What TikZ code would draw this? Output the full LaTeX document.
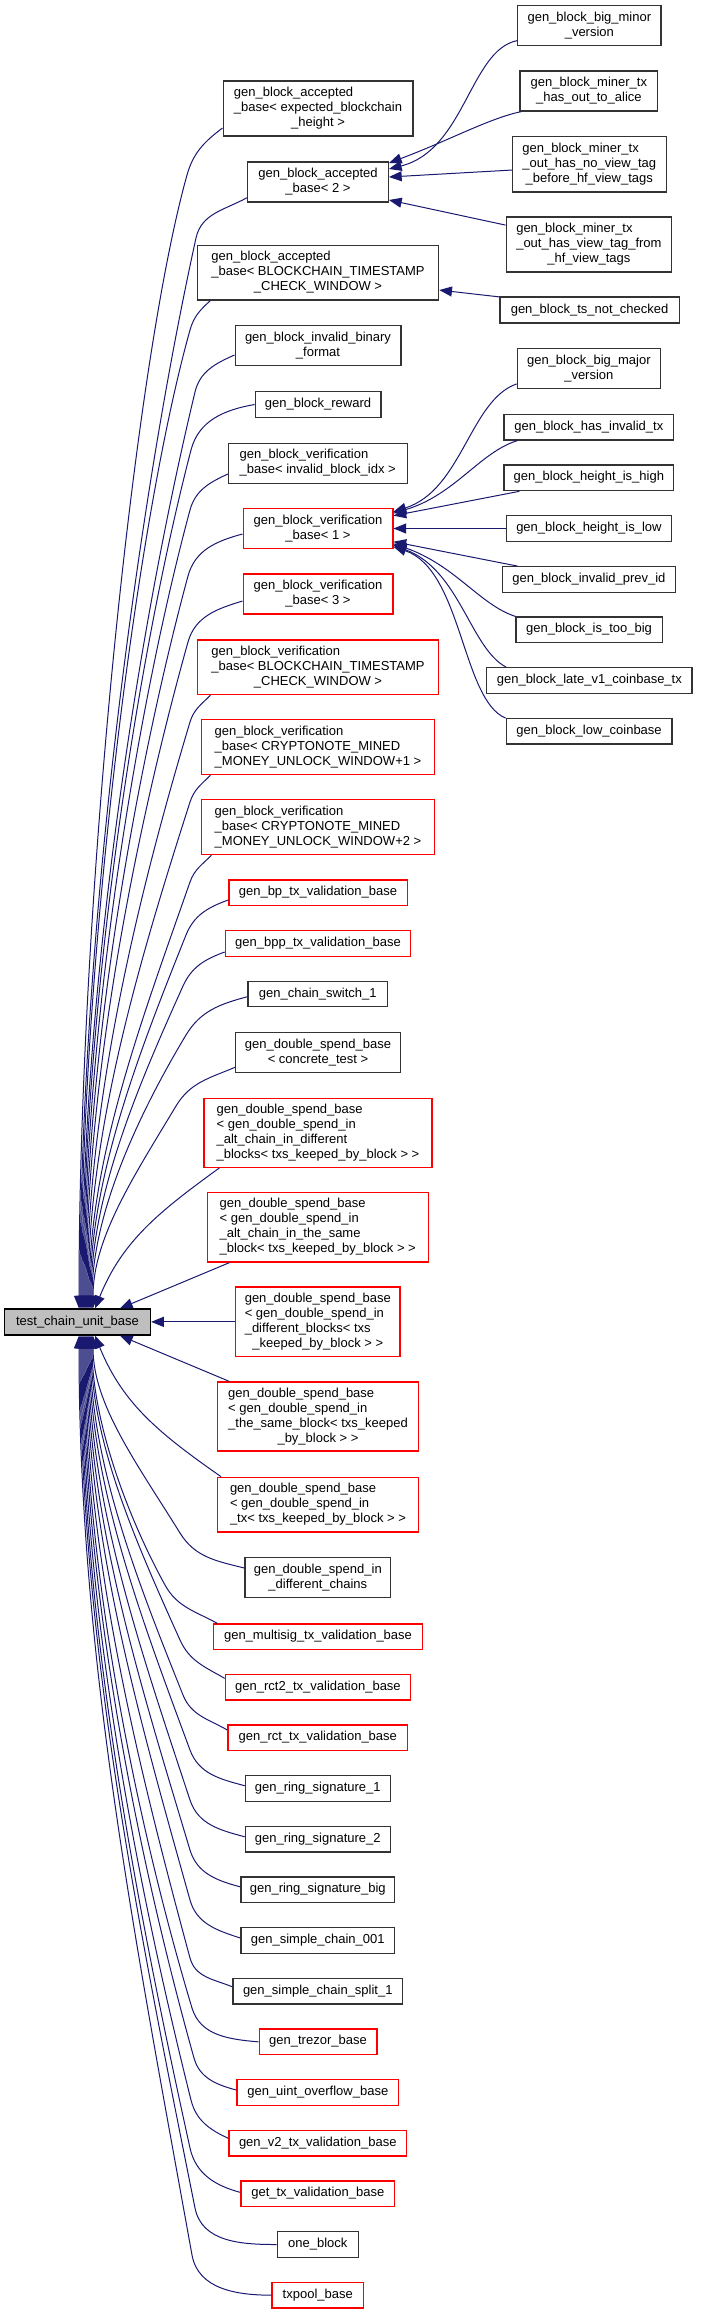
\documentclass[tikz,border=0pt]{standalone}
\usepackage{fontspec}
\setmainfont{Liberation Sans}
\usetikzlibrary{arrows.meta,calc}
\definecolor{edgeblue}{HTML}{191970}
\definecolor{basegray}{HTML}{BFBFBF}
\definecolor{boxred}{HTML}{FF0000}
\newcommand{\dxfont}{\fontsize{9.75}{11.25}\selectfont}
\newcommand{\dxl}[1]{\begin{tabular}{@{}l@{}}#1\end{tabular}}
\newcommand{\dxc}[1]{\multicolumn{1}{@{}c@{}}{#1}}
% node: name, x1, y1, x2, y2 (px, y downwards), text, style
\newcommand{\dxnode}[7]{\node[#7, minimum width={(#4-#2)*0.75pt}, minimum height={(#5-#3)*0.75pt}] (#1) at ({(#2+#4)/2},{-(#3+#5)/2}) {\dxl{#6}};}
% upper edge: start, out angle, Bx, By, Ex, slope
\newcommand{\upedge}[6]{%
  \pgfmathsetmacro{\dxin}{90-atan(#6)}%
  \pgfmathsetmacro{\dxt}{min(0.5*(#3-#5)/#6, 0.6*(1309-#4))}%
  \pgfmathsetmacro{\dxcax}{#3-#6*\dxt}%
  \pgfmathsetmacro{\dxcay}{#4+\dxt}%
  \pgfmathsetmacro{\dxcby}{1309-0.35*(1309-#4)}%
  \draw[inh] (#1) to[out=#2,in=\dxin] (#3,-#4) .. controls (\dxcax,-\dxcay) and (#5,-\dxcby) .. ($(base.north)+({#5-77.5},0)$);%
}
% lower edge: start, out angle, Bx, By, Ex, slope
\newcommand{\lowedge}[6]{%
  \pgfmathsetmacro{\dxin}{atan(#6)-90}%
  \pgfmathsetmacro{\dxt}{min(0.5*(#3-#5)/#6, 0.6*(#4-1335))}%
  \pgfmathsetmacro{\dxcax}{#3-#6*\dxt}%
  \pgfmathsetmacro{\dxcay}{#4-\dxt}%
  \pgfmathsetmacro{\dxcby}{1335+0.35*(#4-1335)}%
  \draw[inh] (#1) to[out=#2,in=\dxin] (#3,-#4) .. controls (\dxcax,-\dxcay) and (#5,-\dxcby) .. ($(base.south)+({#5-77.5},0)$);%
}
\begin{document}
\begin{tikzpicture}[x=0.75pt,y=0.75pt,
  cls/.style={draw=black!80, line width=0.9pt, fill=white, inner sep=0pt, font=\dxfont, text=black},
  clsr/.style={cls, draw=boxred},
  clsb/.style={cls, draw=black, fill=basegray},
  inh/.style={draw=edgeblue, line width=0.75pt, -{Triangle[length=9.5pt,width=7.5pt]}}]
\useasboundingbox (0,0) rectangle (701,-2314);

% right column, top
\dxnode{bmin}{517.8}{5.7}{660.9}{45.7}{gen\_block\_big\_minor\\\dxc{\_version}}{cls}
\dxnode{alice}{520}{71}{657.8}{111}{gen\_block\_miner\_tx\\\dxc{\_has\_out\_to\_alice}}{cls}
\dxnode{nvt}{512.4}{136.7}{666.2}{192}{gen\_block\_miner\_tx\\\_out\_has\_no\_view\_tag\\\dxc{\_before\_hf\_view\_tags}}{cls}
\dxnode{vtf}{506.2}{217}{671.6}{272}{gen\_block\_miner\_tx\\\_out\_has\_view\_tag\_from\\\dxc{\_hf\_view\_tags}}{cls}
\dxnode{tsnc}{500}{297}{679.1}{323}{gen\_block\_ts\_not\_checked}{cls}
% right column, middle
\dxnode{bmaj}{517.3}{348.7}{660.4}{388.7}{gen\_block\_big\_major\\\dxc{\_version}}{cls}
\dxnode{hit}{504}{414.7}{673.8}{440}{gen\_block\_has\_invalid\_tx}{cls}
\dxnode{hih}{504}{465}{673.8}{490.7}{gen\_block\_height\_is\_high}{cls}
\dxnode{hil}{506.2}{515.7}{671.6}{541.3}{gen\_block\_height\_is\_low}{cls}
\dxnode{ipi}{502.2}{566.7}{675.6}{592.3}{gen\_block\_invalid\_prev\_id}{cls}
\dxnode{itb}{516}{617}{662.2}{642.7}{gen\_block\_is\_too\_big}{cls}
\dxnode{lv1}{486.7}{667.7}{692}{693.3}{gen\_block\_late\_v1\_coinbase\_tx}{cls}
\dxnode{lcb}{506.2}{718.7}{672}{744}{gen\_block\_low\_coinbase}{cls}

% middle column
\dxnode{abe}{223.1}{81}{412.9}{136}{gen\_block\_accepted\\\_base< expected\_blockchain\\\dxc{\_height >}}{cls}
\dxnode{ab2}{247.6}{162}{388.4}{202}{gen\_block\_accepted\\\dxc{\_base< 2 >}}{cls}
\dxnode{abw}{197.3}{245.3}{438.7}{300}{gen\_block\_accepted\\\_base< BLOCKCHAIN\_TIMESTAMP\\\dxc{\_CHECK\_WINDOW >}}{cls}
\dxnode{ibf}{235.1}{325.7}{400.9}{365.7}{gen\_block\_invalid\_binary\\\dxc{\_format}}{cls}
\dxnode{rew}{255.1}{391.7}{380.9}{417.3}{gen\_block\_reward}{cls}
\dxnode{vbi}{228.4}{443.3}{407.1}{483.3}{gen\_block\_verification\\\dxc{\_base< invalid\_block\_idx >}}{cls}
\dxnode{vb1}{243.1}{508.7}{392.9}{548.7}{gen\_block\_verification\\\dxc{\_base< 1 >}}{clsr}
\dxnode{vb3}{243.1}{574}{392.9}{614}{gen\_block\_verification\\\dxc{\_base< 3 >}}{clsr}
\dxnode{vbw}{197.3}{640}{438.7}{694.7}{gen\_block\_verification\\\_base< BLOCKCHAIN\_TIMESTAMP\\\dxc{\_CHECK\_WINDOW >}}{clsr}
\dxnode{vm1}{201.3}{719.7}{434.7}{774.7}{gen\_block\_verification\\\_base< CRYPTONOTE\_MINED\\\dxc{\_MONEY\_UNLOCK\_WINDOW+1 >}}{clsr}
\dxnode{vm2}{201.3}{799.7}{434.7}{854.7}{gen\_block\_verification\\\_base< CRYPTONOTE\_MINED\\\dxc{\_MONEY\_UNLOCK\_WINDOW+2 >}}{clsr}
\dxnode{bp}{228.9}{880}{407.1}{905.3}{gen\_bp\_tx\_validation\_base}{clsr}
\dxnode{bpp}{225.3}{930.7}{410.7}{956.3}{gen\_bpp\_tx\_validation\_base}{clsr}
\dxnode{cs1}{248}{981.3}{387.6}{1006.7}{gen\_chain\_switch\_1}{cls}
\dxnode{dsc}{235.6}{1032.7}{400.4}{1072.7}{gen\_double\_spend\_base\\\dxc{< concrete\_test >}}{cls}
\dxnode{ds1}{204}{1098.3}{432}{1167.3}{gen\_double\_spend\_base\\< gen\_double\_spend\_in\\\_alt\_chain\_in\_different\\\dxc{\_blocks< txs\_keeped\_by\_block > >}}{clsr}
\dxnode{ds2}{207.1}{1192.7}{428.4}{1262}{gen\_double\_spend\_base\\< gen\_double\_spend\_in\\\_alt\_chain\_in\_the\_same\\\dxc{\_block< txs\_keeped\_by\_block > >}}{clsr}
\dxnode{ds3}{235.6}{1287}{400}{1356.7}{gen\_double\_spend\_base\\< gen\_double\_spend\_in\\\_different\_blocks< txs\\\dxc{\_keeped\_by\_block > >}}{clsr}
\dxnode{ds4}{217.3}{1382}{418.7}{1451}{gen\_double\_spend\_base\\< gen\_double\_spend\_in\\\_the\_same\_block< txs\_keeped\\\dxc{\_by\_block > >}}{clsr}
\dxnode{ds5}{217.3}{1477.3}{418.7}{1532}{gen\_double\_spend\_base\\< gen\_double\_spend\_in\\\dxc{\_tx< txs\_keeped\_by\_block > >}}{clsr}
\dxnode{dsd}{244.9}{1557.7}{390.7}{1597.7}{gen\_double\_spend\_in\\\dxc{\_different\_chains}}{cls}
\dxnode{msig}{213.3}{1624}{422.7}{1649.3}{gen\_multisig\_tx\_validation\_base}{clsr}
\dxnode{rct2}{225.3}{1674.7}{410.7}{1700}{gen\_rct2\_tx\_validation\_base}{clsr}
\dxnode{rct}{228}{1725}{407.6}{1750.7}{gen\_rct\_tx\_validation\_base}{clsr}
\dxnode{rs1}{245.3}{1775.7}{390.2}{1801.3}{gen\_ring\_signature\_1}{cls}
\dxnode{rs2}{245.3}{1826.7}{390.2}{1852}{gen\_ring\_signature\_2}{cls}
\dxnode{rsb}{240.9}{1877}{394.7}{1902.7}{gen\_ring\_signature\_big}{cls}
\dxnode{sc1}{240.9}{1927.7}{394.7}{1953.3}{gen\_simple\_chain\_001}{cls}
\dxnode{scs}{232.9}{1978.7}{402.7}{2004}{gen\_simple\_chain\_split\_1}{cls}
\dxnode{trz}{259.1}{2029}{376.9}{2054.7}{gen\_trezor\_base}{clsr}
\dxnode{uio}{236.9}{2079.7}{398.7}{2105.3}{gen\_uint\_overflow\_base}{clsr}
\dxnode{v2}{228.9}{2130.3}{406.7}{2156}{gen\_v2\_tx\_validation\_base}{clsr}
\dxnode{gtx}{240.9}{2181}{394.7}{2206.7}{get\_tx\_validation\_base}{clsr}
\dxnode{one}{277.3}{2231.7}{358.2}{2257.3}{one\_block}{cls}
\dxnode{txp}{272}{2282.3}{363.6}{2308}{txpool\_base}{clsr}

% base class
\dxnode{base}{4.5}{1309}{150.5}{1335}{test\_chain\_unit\_base}{clsb}

% right column -> gen_block_accepted_base< 2 >
\draw[inh] ($(bmin.south west)+(0,5.7)$) .. controls (470,-50) and (465,-150) .. ($(ab2.east)+(0,13)$);
\draw[inh] ($(alice.south west)+(2,0)$) .. controls (490,-118) and (450,-140) .. ($(ab2.east)+(0,19)$);
\draw[inh] ($(nvt.west)+(0,-5.7)$) -- ($(ab2.east)+(0,5)$);
\draw[inh] ($(vtf.north west)+(0,-8.7)$) -- ($(ab2.east)+(0,-18)$);
\draw[inh] ($(tsnc.north west)+(0,-0.5)$) -- ($(abw.east)+(0,-17.4)$);
% right column -> gen_block_verification_base< 1 >
\draw[inh] ($(bmaj.south west)+(0,5.4)$) .. controls (470,-400) and (462,-490) .. ($(vb1.east)+(0,17)$);
\draw[inh] ($(hit.south west)+(14,0)$) .. controls (480,-452) and (455,-495) .. ($(vb1.east)+(0,15.5)$);
\draw[inh] ($(hih.south west)+(16,0)$) -- ($(vb1.east)+(0,13)$);
\draw[inh] (hil.west) -- (hil.west -| vb1.east);
\draw[inh] ($(ipi.north west)+(16,0)$) -- ($(vb1.east)+(0,-13)$);
\draw[inh] (itb.north west) .. controls (480,-605) and (455,-565) .. ($(vb1.east)+(0,-15)$);
\draw[inh] ($(lv1.north west)+(20,0)$) .. controls (470,-648) and (460,-570) .. ($(vb1.east)+(0,-16.5)$);
\draw[inh] (lcb.north west) .. controls (462,-700) and (462,-570) .. ($(vb1.east)+(0,-18)$);

% middle column -> test_chain_unit_base (from above)
\upedge{$(abe.west)+(0,-19.5)$}{217}{187}{175}{79}{0.28}
\upedge{$(ab2.west)+(0,-15.7)$}{209}{196}{238}{80}{0.22}
\upedge{$(abw.south west)+(13.7,0)$}{222}{190}{330}{81}{0.28}
\upedge{$(ibf.west)+(0,-9.3)$}{204}{195}{392}{82}{0.24}
\upedge{rew.west}{190}{191}{450}{83}{0.26}
\upedge{$(vbi.west)+(0,-10.7)$}{205}{190}{510}{84}{0.27}
\upedge{$(vb1.west)+(0,-5.3)$}{195}{188}{576}{85}{0.27}
\upedge{$(vb3.west)+(0,-7)$}{197}{188}{642}{86}{0.28}
\upedge{$(vbw.south west)+(13.7,0)$}{225}{190}{722}{87}{0.3}
\upedge{$(vm1.south west)+(9.7,0)$}{225}{190}{802}{88}{0.32}
\upedge{$(vm2.south west)+(10.7,0)$}{225}{190}{882}{89}{0.35}
\upedge{$(bp.west)+(0,-7.3)$}{200}{186}{935}{90}{0.4}
\upedge{$(bpp.west)+(0,-8.5)$}{200}{183}{986}{91}{0.45}
\upedge{$(cs1.west)+(0,-2.7)$}{195}{186}{1035}{92}{0.6}
\upedge{$(dsc.west)+(0,-14.6)$}{203}{176}{1106}{93}{0.6}
\draw[inh] ($(ds1.south west)+(16,0)$) to[out=216,in=68] ($(base.north)+(17.5,0)$);
\draw[inh] ($(ds2.south west)+(23,0)$) -- ($(base.north)+(42.5,0)$);
% horizontal
\draw[inh] (ds3.west) -- (ds3.west -| base.east);
% from below
\draw[inh] ($(ds4.north west)+(12.7,0)$) -- ($(base.south)+(42.5,0)$);
\draw[inh] ($(ds5.north west)+(4.4,0)$) to[out=145,in=292] ($(base.south)+(17.5,0)$);
\lowedge{$(dsd.west)+(0,9.7)$}{166}{180}{1533}{93}{0.62}
\lowedge{$(msig.north west)+(4.7,0)$}{151}{165}{1585}{92}{0.55}
\lowedge{$(rct2.west)+(0,9)$}{150}{180}{1640}{91}{0.45}
\lowedge{$(rct.west)+(0,7.8)$}{150}{183}{1695}{90}{0.4}
\lowedge{$(rs1.west)+(0,2.8)$}{165}{190}{1750}{89}{0.37}
\lowedge{$(rs2.west)+(0,2.6)$}{165}{190}{1800}{88}{0.33}
\lowedge{$(rsb.west)+(0,3)$}{165}{190}{1850}{87}{0.3}
\lowedge{$(sc1.west)+(0,2.5)$}{162}{190}{1900}{86}{0.28}
\lowedge{$(scs.west)+(0,4.6)$}{158}{190}{1958}{85}{0.27}
\lowedge{trz.west}{175}{192}{2008}{84}{0.3}
\lowedge{$(uio.west)+(0,2.5)$}{165}{194}{2058}{83}{0.28}
\lowedge{$(v2.west)+(0,4.8)$}{155}{191}{2100}{82}{0.25}
\lowedge{$(gtx.west)+(0,1.5)$}{165}{190}{2148}{81}{0.22}
\lowedge{one.west}{180}{195}{2208}{80}{0.2}
\lowedge{txp.west}{180}{192}{2255}{79}{0.18}
\end{tikzpicture}
\end{document}
